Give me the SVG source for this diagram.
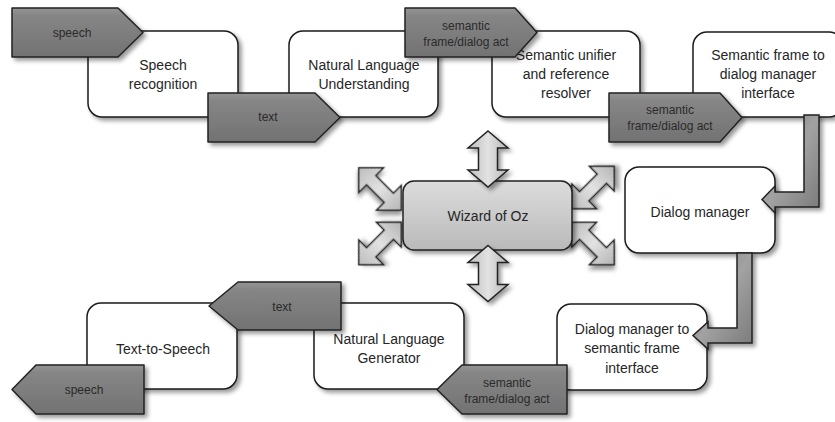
<svg xmlns="http://www.w3.org/2000/svg" width="835" height="422" viewBox="0 0 835 422">
<defs>
<filter id="sh" x="-20%" y="-20%" width="150%" height="150%">
<feDropShadow dx="3" dy="3" stdDeviation="2" flood-color="#000" flood-opacity="0.4"/>
</filter>
<linearGradient id="gTok" x1="0" y1="0" x2="0" y2="1">
<stop offset="0" stop-color="#959595"/>
<stop offset="0.15" stop-color="#868686"/>
<stop offset="1" stop-color="#727272"/>
</linearGradient>
<linearGradient id="gWoz" x1="0" y1="0" x2="0" y2="1">
<stop offset="0" stop-color="#dcdcdc"/>
<stop offset="1" stop-color="#bababa"/>
</linearGradient>
<linearGradient id="gArr" x1="0" y1="0" x2="1" y2="0">
<stop offset="0" stop-color="#bdbdbd"/>
<stop offset="0.5" stop-color="#e2e2e2"/>
<stop offset="1" stop-color="#b5b5b5"/>
</linearGradient>
<linearGradient id="gElb" x1="0" y1="0" x2="1" y2="1">
<stop offset="0" stop-color="#7a7a7a"/>
<stop offset="0.5" stop-color="#a2a2a2"/>
<stop offset="1" stop-color="#7a7a7a"/>
</linearGradient>
<path id="dArr" d="M -30 0 L -12.5 -17.5 L -12.5 -6.5 L 12.5 -6.5 L 12.5 -17.5 L 30 0 L 12.5 17.5 L 12.5 6.5 L -12.5 6.5 L -12.5 17.5 Z"/>
<path id="vArr" d="M 0 -28 L 20 -11 L 9.5 -11 L 9.5 11 L 20 11 L 0 28 L -20 11 L -9.5 11 L -9.5 -11 L -20 -11 Z"/>
</defs>
<style>
.box{fill:#fff;stroke:#1a1a1a;stroke-width:1.5;filter:url(#sh)}
.tok{fill:url(#gTok);stroke:#222;stroke-width:1.5;stroke-linejoin:round;filter:url(#sh)}
.woz{fill:url(#gWoz);stroke:#222;stroke-width:1.5;filter:url(#sh)}
.arr{fill:url(#gArr);stroke:#222;stroke-width:1.5;stroke-linejoin:miter;filter:url(#sh)}
.elb{fill:url(#gElb);stroke:#222;stroke-width:1.5;stroke-linejoin:miter;filter:url(#sh)}
.t{font-family:"Liberation Sans",Arial,sans-serif;font-size:14px;fill:#262626;text-anchor:middle}
.s{font-family:"Liberation Sans",Arial,sans-serif;font-size:12px;fill:#2a2a2a;text-anchor:middle}
</style>
<rect width="835" height="422" fill="#fff"/>

<g id="speech-recognition">
<rect class="box" x="88" y="31" width="150" height="86" rx="14"/>
<text class="t" x="163" y="70">Speech</text>
<text class="t" x="163" y="89">recognition</text>
</g>
<g id="nlu">
<rect class="box" x="289" y="31" width="149" height="86" rx="14"/>
<text class="t" x="364" y="70">Natural Language</text>
<text class="t" x="364" y="89">Understanding</text>
</g>
<g id="semantic-unifier">
<rect class="box" x="492" y="31" width="148" height="86" rx="14"/>
<text class="t" x="566" y="60">Semantic unifier</text>
<text class="t" x="566" y="79">and reference</text>
<text class="t" x="566" y="98">resolver</text>
</g>
<g id="sf-to-dm">
<rect class="box" x="693" y="32" width="150" height="85" rx="14"/>
<text class="t" x="768" y="60">Semantic frame to</text>
<text class="t" x="768" y="79">dialog manager</text>
<text class="t" x="768" y="98">interface</text>
</g>
<g id="dialog-manager">
<rect class="box" x="625" y="167" width="150" height="86" rx="14"/>
<text class="t" x="700" y="217">Dialog manager</text>
</g>
<g id="dm-to-sf">
<rect class="box" x="557" y="304" width="150" height="86" rx="14"/>
<text class="t" x="632" y="334">Dialog manager to</text>
<text class="t" x="632" y="353">semantic frame</text>
<text class="t" x="632" y="373">interface</text>
</g>
<g id="nlg">
<rect class="box" x="314" y="303" width="150" height="86" rx="14"/>
<text class="t" x="389" y="344">Natural Language</text>
<text class="t" x="389" y="363">Generator</text>
</g>
<g id="tts">
<rect class="box" x="87" y="303" width="150" height="86" rx="14"/>
<text class="t" x="163" y="354">Text-to-Speech</text>
</g>

<g id="connectors">
<polygon class="elb" points="804,115 819,115 819,207 775,207 775,213 762,199.5 775,186 775,192 804,192"/>
<polygon class="elb" points="737,253 752,253 752,343 708,343 708,349 693,335.5 708,322 708,328 737,328"/>
<use href="#dArr" class="arr" transform="translate(380 189) rotate(45)"/>
<use href="#dArr" class="arr" transform="translate(380 243.5) rotate(-45)"/>
<use href="#dArr" class="arr" transform="translate(593 187.5) rotate(-45)"/>
<use href="#dArr" class="arr" transform="translate(593 243.5) rotate(45)"/>
</g>

<g id="wizard-of-oz">
<rect class="woz" x="403" y="181" width="169" height="69" rx="11"/>
<text class="t" x="488" y="221">Wizard of Oz</text>
</g>
<g id="woz-vertical-arrows">
<use href="#vArr" class="arr" transform="translate(488 159)"/>
<use href="#vArr" class="arr" transform="translate(488 273.5)"/>
</g>

<g id="token-speech-in">
<polygon class="tok" points="12,8 118,8 143,32.5 118,57 12,57"/>
<text class="s" x="72" y="37">speech</text>
</g>
<g id="token-text-1">
<polygon class="tok" points="208,93 315,93 340,117.5 315,142 208,142"/>
<text class="s" x="268" y="121">text</text>
</g>
<g id="token-sem-1">
<polygon class="tok" points="405,8 515,8 537,32.5 515,57 405,57"/>
<text class="s" x="466" y="30">semantic</text>
<text class="s" x="466" y="46">frame/dialog act</text>
</g>
<g id="token-sem-2">
<polygon class="tok" points="609,93 720,93 742,117.5 720,142 609,142"/>
<text class="s" x="670" y="114">semantic</text>
<text class="s" x="670" y="130">frame/dialog act</text>
</g>
<g id="token-sem-3">
<polygon class="tok" points="567,365 462,365 437,389.5 462,414 567,414"/>
<text class="s" x="507" y="387">semantic</text>
<text class="s" x="507" y="403">frame/dialog act</text>
</g>
<g id="token-text-2">
<polygon class="tok" points="341,282 238,282 209,306 238,330 341,330"/>
<text class="s" x="282" y="311">text</text>
</g>
<g id="token-speech-out">
<polygon class="tok" points="144,365 36,365 12,389.5 36,414 144,414"/>
<text class="s" x="84" y="394">speech</text>
</g>
</svg>
